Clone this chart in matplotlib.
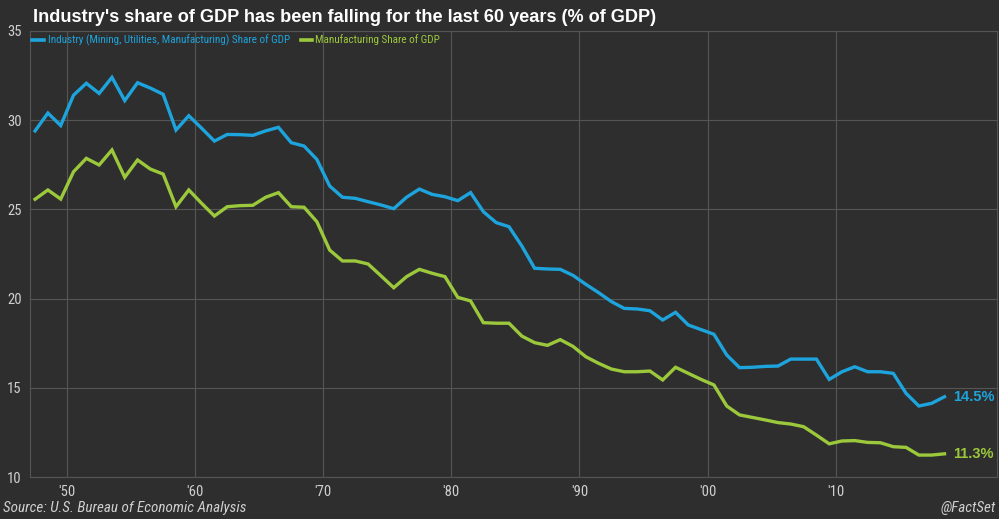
import matplotlib
matplotlib.use("Agg")
import matplotlib.pyplot as plt
from matplotlib import font_manager
import numpy as np

years = list(range(1947, 2019))
industry = [29.4, 30.4, 29.7, 31.4, 32.07, 31.5, 32.4, 31.1, 32.1, 31.8, 31.45,
            29.45, 30.25, 29.55, 28.83, 29.2, 29.19, 29.15, 29.4, 29.6, 28.74,
            28.55, 27.8, 26.31, 25.68, 25.62, 25.43, 25.25, 25.04, 25.68, 26.14,
            25.84, 25.71, 25.49, 25.94, 24.87, 24.26, 24.03, 22.95, 21.7, 21.66,
            21.64, 21.3, 20.8, 20.33, 19.83, 19.45, 19.42, 19.32, 18.8, 19.23,
            18.52, 18.26, 18.0, 16.84, 16.13, 16.15, 16.2, 16.22, 16.61, 16.61,
            16.61, 15.47, 15.9, 16.18, 15.9, 15.9, 15.81, 14.69, 13.98, 14.13, 14.5]
manufacturing = [25.57, 26.09, 25.58, 27.11, 27.86, 27.49, 28.33, 26.8, 27.77, 27.26, 26.98,
                 25.15, 26.09, 25.34, 24.63, 25.15, 25.21, 25.23, 25.68, 25.94, 25.15,
                 25.12, 24.31, 22.72, 22.11, 22.11, 21.94, 21.28, 20.61, 21.23, 21.64,
                 21.42, 21.23, 20.07, 19.87, 18.65, 18.62, 18.62, 17.9, 17.53, 17.38,
                 17.7, 17.32, 16.74, 16.37, 16.05, 15.9, 15.9, 15.94, 15.44, 16.15,
                 15.81, 15.47, 15.16, 13.98, 13.48, 13.34, 13.2, 13.05, 12.97, 12.82,
                 12.35, 11.86, 12.02, 12.04, 11.94, 11.92, 11.7, 11.66, 11.23, 11.23, 11.3]
tick_years = [1950, 1960, 1970, 1980, 1990, 2000, 2010]
tick_labels = ["'50", "'60", "'70", "'80", "'90", "'00", "'10"]
y_ticks = [10, 15, 20, 25, 30, 35]

title = "Industry's share of GDP has been falling for the last 60 years (% of GDP)"
label_ind = "Industry (Mining, Utilities, Manufacturing) Share of GDP"
label_man = "Manufacturing Share of GDP"
end_ind = "14.5%"
end_man = "11.3%"

BG = '#2e2e2e'
GRID = '#555555'
BLUE = '#1ea4dd'
GREEN = '#9cc83b'
TXT = '#d0d0d0'
SANS = ['Liberation Sans', 'DejaVu Sans']

# pick a condensed font if available, else shrink regular sans
names = {f.name for f in font_manager.fontManager.ttflist}
narrow = None
for cand in ['Liberation Sans Narrow', 'Arial Narrow', 'DejaVu Sans Condensed',
             'Roboto Condensed', 'Open Sans Condensed', 'Noto Sans Condensed']:
    if cand in names:
        narrow = cand
        break
if narrow is None:
    NARROW = SANS
    small_scale = 0.72
else:
    NARROW = [narrow, 'DejaVu Sans']
    small_scale = 1.0

fig = plt.figure(figsize=(9.99, 5.19), dpi=100, facecolor=BG)
ax = fig.add_axes([0.030, 0.0809, 0.968, 0.8594], facecolor=BG)

x = np.array(years) + 0.5
ax.plot(x, industry, color=BLUE, lw=2.4, solid_joinstyle='miter', zorder=3)
ax.plot(x, manufacturing, color=GREEN, lw=2.4, solid_joinstyle='miter', zorder=3)

ax.set_xlim(1947.1, 2022.6)
ax.set_ylim(10, 35)
ax.set_yticks(y_ticks)
ax.set_xticks(tick_years)
ax.set_xticklabels(tick_labels)
ax.grid(True, color=GRID, lw=0.8)
ax.set_axisbelow(True)
for s in ax.spines.values():
    s.set_color(GRID)
    s.set_linewidth(0.8)
ax.tick_params(axis='both', length=0, colors=TXT, labelsize=10.5 * max(small_scale, 0.9))
ax.tick_params(axis='y', pad=6)
ax.tick_params(axis='x', pad=6)
for lab in ax.get_xticklabels() + ax.get_yticklabels():
    lab.set_family(NARROW)

fig.text(0.033, 0.966, title, color='white', fontsize=13.1, fontweight='bold',
         family=SANS, ha='left', va='center')

# legend
ly = 1 - 40 / 519
lfs = 8.0 * (1.0 if narrow else 0.95)
fig.add_artist(plt.Line2D([32 / 999, 44 / 999], [ly, ly], color=BLUE, lw=2.6))
fig.text(48 / 999, ly, label_ind, color=BLUE, fontsize=lfs, family=NARROW,
         ha='left', va='center')
fig.add_artist(plt.Line2D([301 / 999, 312 / 999], [ly, ly], color=GREEN, lw=2.6))
fig.text(315 / 999, ly, label_man, color=GREEN, fontsize=lfs, family=NARROW,
         ha='left', va='center')

ax.annotate(end_ind, xy=(x[-1], industry[-1]), xytext=(6, 0), textcoords='offset points',
            color=BLUE, fontsize=10.5, fontweight='bold', family=SANS, va='center', ha='left')
ax.annotate(end_man, xy=(x[-1], manufacturing[-1]), xytext=(6, 0), textcoords='offset points',
            color=GREEN, fontsize=10.5, fontweight='bold', family=SANS, va='center', ha='left')

sfs = 10.9 if narrow else 9.1
fig.text(3 / 999, 1 - 508 / 519, "Source: U.S. Bureau of Economic Analysis", color=TXT,
         fontsize=sfs, style='italic', family=NARROW, ha='left', va='center')
fig.text(996 / 999, 1 - 508 / 519, "@FactSet", color=TXT,
         fontsize=sfs, style='italic', family=NARROW, ha='right', va='center')

fig.savefig('out.png', dpi=100, facecolor=BG)
